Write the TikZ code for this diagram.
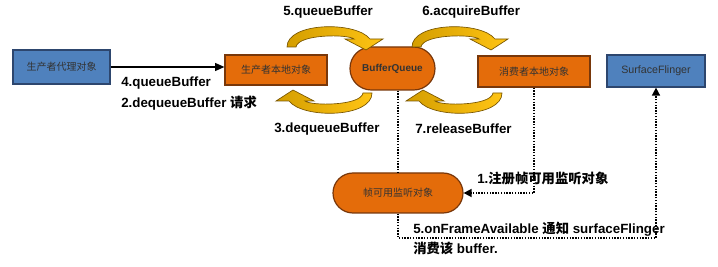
\documentclass[tikz,border=0pt]{standalone}
\usepackage{fontspec}
\setmainfont{Liberation Sans}
\newfontfamily\cjk{Noto Sans CJK SC}
\usetikzlibrary{arrows.meta,calc}

\definecolor{boxblue}{RGB}{79,129,189}
\definecolor{boxblueline}{RGB}{45,70,110}
\definecolor{boxorange}{RGB}{228,108,10}
\definecolor{boxorangeline}{RGB}{120,55,10}
\definecolor{arrowgold}{RGB}{255,196,20}
\definecolor{arrowdark}{RGB}{212,158,0}
\definecolor{arrowgoldline}{RGB}{120,85,0}

\tikzset{
  objbox/.style={draw=#1line, fill=#1, line width=0.9pt, inner sep=0pt,
    font=\cjk\fontsize{7.5}{9}\selectfont, text=black!80},
  pill/.style={objbox=boxorange, rounded corners=#1},
  step label/.style={anchor=west, inner sep=0pt, font=\bfseries\fontsize{10}{12}\selectfont},
  notify/.style={densely dotted, line width=1.1pt, -{Triangle[length=6pt,width=6pt]}},
  bentarrow/.pic={
    \draw[left color=arrowdark, right color=arrowgold, draw=arrowgoldline, line width=0.5pt]
      (-41,0) .. controls (-41,-25) and (28,-26) .. (42,-8) -- (55,-8) -- (38,3)
      -- (17,-8) -- (26,-8) .. controls (20,-13) and (-30,-13) .. (-32,0) -- cycle;
  }
}

\begin{document}
\begin{tikzpicture}[x=0.75pt, y=-0.75pt]

\useasboundingbox (0,0) rectangle (718,267);

% Objects
\node[objbox=boxblue, minimum width=97*0.75pt, minimum height=34*0.75pt] (proxy) at (61.5,67) {生产者代理对象};
\node[objbox=boxorange, minimum width=102*0.75pt, minimum height=30*0.75pt] (producer) at (276,70) {生产者本地对象};
\node[pill=16pt, minimum width=85*0.75pt, minimum height=43*0.75pt, font=\bfseries\fontsize{7.5}{9}\selectfont] (bq) at (392.5,68.5) {BufferQueue};
\node[objbox=boxorange, minimum width=112*0.75pt, minimum height=31*0.75pt] (consumer) at (534,71.5) {消费者本地对象};
\node[objbox=boxblue, minimum width=98*0.75pt, minimum height=32*0.75pt, font=\fontsize{8}{10}\selectfont] (sf) at (656,71) {SurfaceFlinger};
\node[pill=15pt, minimum width=130*0.75pt, minimum height=40*0.75pt] (listener) at (398,193) {帧可用监听对象};

% Buffer exchange arrows
\pic at (328,47) {bentarrow};
\pic at (453,47) {bentarrow};
\pic[rotate=180] at (331,93) {bentarrow};
\pic[rotate=180] at (461,93) {bentarrow};

% Request from proxy
\draw[line width=0.8pt, -{Triangle[length=7pt,width=6pt]}] (proxy.east) -- (proxy.east -| producer.west);

% Listener connections
\coordinate (fbase) at (0,238);
\draw[densely dotted, line width=1.1pt] (listener.north |- bq.south) -- (listener.north);
\draw[notify] (listener.south) -- (listener.south |- fbase) -| (sf.south);
\draw[notify] (consumer.south) |- (listener.east);

% Labels
\node[step label] (l4) at (121,83) {4.queueBuffer};
\node[step label] (l2) at (121,103) {2.dequeueBuffer {\cjk 请求}};
\node[step label] (l5) at (283,12) {5.queueBuffer};
\node[step label] (l6) at (422,12) {6.acquireBuffer};
\node[step label] (l3) at (274,129) {3.dequeueBuffer};
\node[step label] (l7) at (415,129) {7.releaseBuffer};
\node[step label] (l1) at (477,178) {1.{\cjk 注册帧可用监听对象}};
\node[step label] (l5b) at (413,229) {5.onFrameAvailable {\cjk 通知} surfaceFlinger};
\node[step label] (l5c) at (413,248) {{\cjk 消费该} buffer.};

\end{tikzpicture}
\end{document}
